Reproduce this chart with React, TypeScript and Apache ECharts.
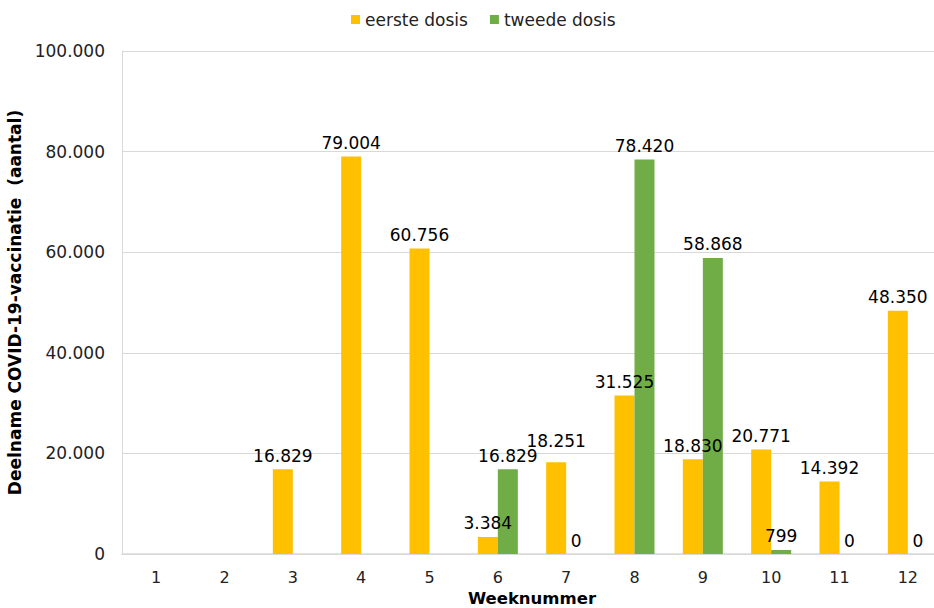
import React, { useEffect, useRef } from "react";
import * as echarts from "echarts";

const weeks = ["1", "2", "3", "4", "5", "6", "7", "8", "9", "10", "11", "12"];
const eersteDosis: (number | null)[] = [null, null, 16829, 79004, 60756, 3384, 18251, 31525, 18830, 20771, 14392, 48350];
const tweedeDosis: (number | null)[] = [null, null, null, null, null, 16829, 0, 78420, 58868, 799, 0, 0];
const yTicks = { min: 0, max: 100000, interval: 20000 };

const fmt = (v: number) => {
  const s = Math.round(v).toString();
  return s.replace(/\B(?=(\d{3})+(?!\d))/g, ".");
};

const mainFont = "'DejaVu Sans', Verdana, sans-serif";

export default function App() {
  const ref = useRef<HTMLDivElement>(null);
  useEffect(() => {
    if (!ref.current) return;
    const chart = echarts.init(ref.current, undefined, { renderer: "svg" });
    const labelCfg = {
      show: true,
      position: "top" as const,
      distance: 5,
      color: "#000",
      fontFamily: mainFont,
      fontSize: 17,
      formatter: (p: any) => (p.value === null || p.value === undefined ? "" : fmt(p.value)),
    };
    // week 7's first-dose label sits a little higher in the reference to clear its neighbour
    const eersteData = eersteDosis.map((v, i) => (i === 6 ? { value: v, label: { distance: 13 } } : v));
    chart.setOption({
      animation: false,
      backgroundColor: "#fff",
      legend: {
        top: 6,
        left: 346,
        itemWidth: 9,
        itemHeight: 9,
        itemGap: 22,
        icon: "rect",
        textStyle: { fontFamily: mainFont, fontSize: 17, color: "#222" },
        data: ["eerste dosis", "tweede dosis"],
      },
      grid: { left: 122, right: -8, top: 51, bottom: 54, containLabel: false, outerBoundsMode: "none" },
      xAxis: {
        type: "category",
        data: weeks,
        name: "Weeknummer",
        nameLocation: "middle",
        nameGap: 35,
        nameTextStyle: { fontFamily: mainFont, fontWeight: "bold", fontSize: 16.5, color: "#000" },
        axisLine: { lineStyle: { color: "#d9d9d9", width: 1.5 } },
        axisTick: { show: false },
        axisLabel: { fontFamily: mainFont, fontSize: 16, color: "#222", margin: 15 },
      },
      yAxis: {
        type: "value",
        min: yTicks.min,
        max: yTicks.max,
        interval: yTicks.interval,
        name: "Deelname COVID-19-vaccinatie  (aantal)",
        nameLocation: "middle",
        nameGap: 89,
        nameTextStyle: { fontFamily: mainFont, fontWeight: "bold", fontSize: 17, color: "#000" },
        axisLine: { show: true, lineStyle: { color: "#d9d9d9" } },
        axisTick: { show: false },
        splitLine: { lineStyle: { color: "#d9d9d9" } },
        axisLabel: { fontFamily: mainFont, fontSize: 17, color: "#222", margin: 17, formatter: (v: number) => fmt(v) },
      },
      series: [
        {
          name: "eerste dosis",
          type: "bar",
          data: eersteData,
          barWidth: 20,
          barGap: "0%",
          itemStyle: { color: "#FFC000" },
          label: labelCfg,
        },
        {
          name: "tweede dosis",
          type: "bar",
          data: tweedeDosis,
          barWidth: 20,
          barGap: "0%",
          itemStyle: { color: "#70AD47" },
          label: labelCfg,
        },
      ],
    });
    return () => chart.dispose();
  }, []);
  return <div ref={ref} style={{ position: "fixed", left: 0, top: 0, width: 934, height: 608 }} />;
}
